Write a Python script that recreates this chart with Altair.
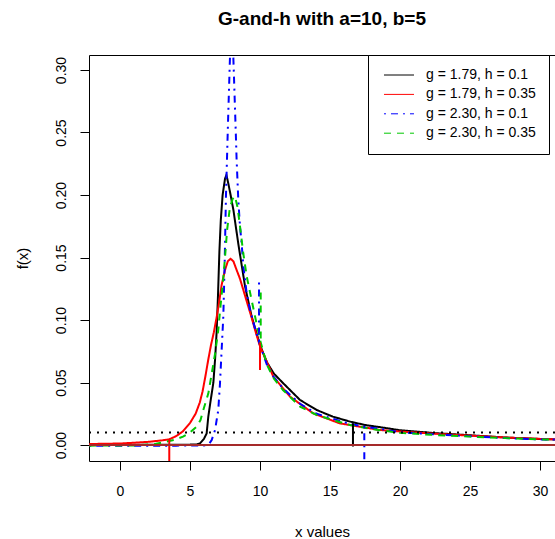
import altair as alt
import pandas as pd

# Density curves of the g-and-h distribution (a = 10, b = 5)
SERIES = ["g = 1.79, h = 0.1", "g = 1.79, h = 0.35", "g = 2.30, h = 0.1", "g = 2.30, h = 0.35"]
COLORS = ["#000000", "#FF0000", "#0000FF", "#00C800"]
DASHES = [[1, 0], [1, 0], [2, 5, 7, 5], [7, 6]]

BLACK_X = [-2.2, 0, 2, 4, 5, 5.5, 5.71, 6.0, 6.19, 6.31, 6.48, 6.67, 6.8, 6.9, 7.0, 7.1, 7.2, 7.33,
           7.5, 7.6, 7.74, 7.9, 8.1, 8.45, 8.93, 9.4, 10.0, 10.5, 11.0, 11.64, 12.86, 14.05, 15.2,
           16.43, 17.5, 18.8, 20, 22.5, 25, 27.5, 30, 31.2]
BLACK_Y = [0.0003, 0.0003, 0.0003, 0.0003, 0.0003, 0.0005, 0.0013, 0.005, 0.0093, 0.023, 0.036, 0.05,
           0.07, 0.09, 0.12, 0.155, 0.18, 0.2, 0.213, 0.216, 0.209, 0.2, 0.188, 0.161, 0.127, 0.103,
           0.08, 0.066, 0.057, 0.0496, 0.036, 0.028, 0.0227, 0.0187, 0.016, 0.0139, 0.0118, 0.0095,
           0.0078, 0.006, 0.0048, 0.0044]

RED_X = [-2.2, -1, 0, 1, 2, 3, 3.5, 4, 4.5, 5, 5.4, 5.7, 5.9, 6.1, 6.3, 6.5, 6.7, 6.9, 7.05, 7.26,
         7.5, 7.7, 7.9, 8.1, 8.33, 8.57, 8.81, 9.05, 9.4, 9.7, 10.0, 10.95, 12.14, 13.8, 15.7, 18.57,
         20, 22.5, 25, 27.5, 30, 31.2]
RED_Y = [0.0008, 0.001, 0.0012, 0.0018, 0.0025, 0.0037, 0.0045, 0.007, 0.011, 0.0176, 0.025, 0.034,
         0.043, 0.055, 0.068, 0.08, 0.09, 0.102, 0.112, 0.128, 0.14, 0.147, 0.149, 0.147, 0.14, 0.133,
         0.124, 0.115, 0.102, 0.09, 0.079, 0.0547, 0.0387, 0.0253, 0.0173, 0.012, 0.0108, 0.009,
         0.0075, 0.006, 0.0049, 0.0045]

BLUE_X = [-2.2, 4, 6.0, 6.19, 6.4, 6.55, 6.79, 7.02, 7.14, 7.26, 7.38, 7.48, 7.57, 7.72, 7.86, 7.97,
          8.09, 8.27, 8.33, 8.45, 8.57, 8.69, 8.81, 9.05, 9.29, 9.6, 10.0, 10.5, 11.0, 11.67, 12.86,
          14.05, 15.2, 16.43, 17.4, 18.5, 20, 22.5, 25, 27.5, 30, 31.2]
BLUE_Y = [-0.0005, -0.0005, -0.0004, 0.0, 0.0015, 0.004, 0.012, 0.028, 0.049, 0.076, 0.103, 0.148,
          0.2, 0.26, 0.312, 0.345, 0.312, 0.25, 0.228, 0.196, 0.175, 0.161, 0.143, 0.121, 0.108,
          0.095, 0.08, 0.064, 0.054, 0.045, 0.033, 0.025, 0.021, 0.0168, 0.0148, 0.013, 0.0102,
          0.0085, 0.007, 0.0056, 0.0045, 0.0043]

GREEN_X = [-2.2, 1, 2.5, 3.33, 4.0, 4.5, 5.0, 5.48, 5.75, 5.95, 6.31, 6.55, 6.79, 7.02, 7.15, 7.35,
           7.5, 7.65, 7.85, 8.05, 8.21, 8.4, 8.57, 8.81, 9.05, 9.4, 9.7, 10.0, 10.5, 11.0, 11.64,
           12.86, 14.05, 15.2, 16.43, 18, 20, 22.5, 25, 27.5, 30, 31.2]
GREEN_Y = [-0.0005, -0.0004, 0.0008, 0.0027, 0.0045, 0.0067, 0.01, 0.0147, 0.02, 0.028, 0.0413,
           0.057, 0.073, 0.092, 0.108, 0.13, 0.15, 0.172, 0.19, 0.197, 0.199, 0.19, 0.175, 0.153,
           0.135, 0.116, 0.1, 0.084, 0.064, 0.053, 0.044, 0.0307, 0.024, 0.02, 0.016, 0.0128,
           0.0097, 0.008, 0.0067, 0.0055, 0.0045, 0.0042]

# Short vertical segments drawn on top of the curves
SPIKE_SERIES = [SERIES[1], SERIES[1], SERIES[2], SERIES[3], SERIES[0], SERIES[2]]
SPIKE_X = [3.52, 10.0, 9.93, 10.05, 16.64, 17.45]
SPIKE_TOP = [0.0045, 0.082, 0.13, 0.122, 0.0175, 0.015]
SPIKE_BOTTOM = [-0.02, 0.06, 0.082, 0.08, -0.0012, -0.02]

DOTTED_LEVEL = [0.01]
BASE_LEVEL = [0.0]

X_DOMAIN = [-2.214, 31.07]
Y_DOMAIN = [-0.0128, 0.312]
X_TICKS = [0, 5, 10, 15, 20, 25, 30]
Y_TICKS = [0.0, 0.05, 0.10, 0.15, 0.20, 0.25, 0.30]

FONT = "Liberation Sans"

frames = []
for name, xs, ys in zip(SERIES, [BLACK_X, RED_X, BLUE_X, GREEN_X], [BLACK_Y, RED_Y, BLUE_Y, GREEN_Y]):
    frames.append(pd.DataFrame({"x": xs, "y": ys, "series": name, "part": name + " curve"}))
for i, (name, sx, top, bottom) in enumerate(zip(SPIKE_SERIES, SPIKE_X, SPIKE_TOP, SPIKE_BOTTOM)):
    frames.append(pd.DataFrame({"x": [sx, sx], "y": [top, bottom], "series": name,
                                "part": f"{name} spike {i}"}))
curves = pd.concat(frames, ignore_index=True)

x_scale = alt.Scale(domain=X_DOMAIN, nice=False, zero=False)
y_scale = alt.Scale(domain=Y_DOMAIN, nice=False, zero=False)
color_scale = alt.Scale(domain=SERIES, range=COLORS)
dash_scale = alt.Scale(domain=SERIES, range=DASHES)

legend = alt.Legend(
    title=None,
    orient="none",
    legendX=279,
    legendY=0,
    symbolType="M-0.667,0H4.333",
    symbolSize=144,
    symbolStrokeWidth=1,
    labelFont=FONT,
    labelFontSize=14,
    labelColor="black",
    labelOffset=31,
    labelLimit=300,
    rowPadding=5.4,
    padding=13,
    strokeColor="black",
    fillColor="white",
    cornerRadius=0,
)

x_axis = alt.Axis(
    values=X_TICKS,
    title="x values",
    grid=False,
    tickSize=9,
    tickColor="black",
    domainColor="black",
    labelFont=FONT,
    labelFontSize=14,
    labelColor="black",
    labelBaseline="alphabetic",
    labelPadding=25,
    labelFlush=False,
    labelOverlap=False,
    titleFont=FONT,
    titleFontSize=15,
    titleFontWeight="normal",
    titleColor="black",
    titleX=233,
    titleY=75,
    titleAlign="center",
    titleBaseline="alphabetic",
)

y_axis = alt.Axis(
    values=Y_TICKS,
    format=".2f",
    title="f(x)",
    grid=False,
    tickSize=9,
    tickColor="black",
    domainColor="black",
    labelFont=FONT,
    labelFontSize=14,
    labelColor="black",
    labelAngle=270,
    labelAlign="center",
    labelBaseline="alphabetic",
    labelPadding=15,
    labelFlush=False,
    labelOverlap=False,
    titleFont=FONT,
    titleFontSize=15,
    titleFontWeight="normal",
    titleColor="black",
    titleAngle=270,
    titleX=-67,
    titleY=203,
    titleAlign="center",
    titleBaseline="middle",
)

# plain top frame line (no ticks or labels)
top_axis = alt.Axis(
    orient="top", labels=False, ticks=False, grid=False, title=None, domainColor="black"
)

lines = alt.Chart(curves).mark_line(clip=True, strokeWidth=2).encode(
    x=alt.X("x:Q", scale=x_scale, axis=x_axis),
    y=alt.Y("y:Q", scale=y_scale, axis=y_axis),
    color=alt.Color("series:N", scale=color_scale, legend=legend),
    strokeDash=alt.StrokeDash("series:N", scale=dash_scale, legend=legend),
    detail="part:N",
)

dotted = alt.Chart(pd.DataFrame({"level": DOTTED_LEVEL})).mark_rule(
    color="black", strokeWidth=2, strokeDash=[2, 6], clip=True
).encode(y=alt.Y("level:Q", scale=y_scale, axis=y_axis))

base = alt.Chart(
    pd.DataFrame({"level": BASE_LEVEL, "x0": [X_DOMAIN[0]], "x1": [X_DOMAIN[1]]})
).mark_rule(color="#A52A2A", strokeWidth=2, clip=True).encode(
    x=alt.X("x0:Q", scale=x_scale, axis=top_axis),
    x2="x1:Q",
    y=alt.Y("level:Q", scale=y_scale, axis=y_axis),
)

chart = (
    alt.layer(lines, dotted, base)
    .resolve_axis(x="independent")
    .properties(
        width=466,
        height=406,
        autosize=alt.AutoSizeParams(type="none"),
        padding={"left": 89, "top": 55, "right": 0, "bottom": 78},
        background="white",
        title=alt.TitleParams(
            "G-and-h with a=10, b=5",
            font=FONT,
            fontSize=19,
            fontWeight="bold",
            color="black",
            anchor="middle",
            baseline="alphabetic",
            offset=11,
        ),
    )
    .configure_view(stroke="transparent")
    .configure_legend(symbolStrokeWidth=1)
)

chart.save("out.html", embed_options={"renderer": "svg", "actions": False})
